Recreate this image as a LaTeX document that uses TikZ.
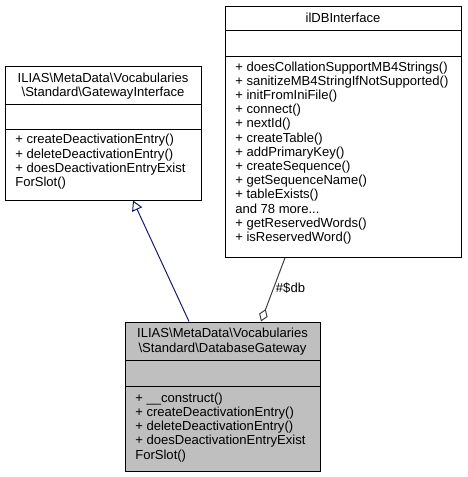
\documentclass[tikz,border=0pt]{standalone}
\usepackage{fontspec}
\setmainfont{Liberation Sans}
\usetikzlibrary{arrows.meta}
\definecolor{edgeblue}{HTML}{191970}
\definecolor{edgegray}{HTML}{404040}
\definecolor{classgray}{HTML}{BFBFBF}
\newcommand{\bs}{\textbackslash}
\newcommand{\topstrut}{\rule{0pt}{7.5pt}}
\begin{document}
\begin{tikzpicture}[x=0.75pt,y=-0.75pt,
  classbox/.style={draw=black,line width=0.75pt,inner sep=0pt,anchor=north west},
  sepline/.style={draw=black,line width=0.75pt},
  umltext/.style={inner sep=0pt,font=\fontsize{9.8pt}{10.65pt}\selectfont},
  titletext/.style={umltext,align=center,anchor=north},
  opstext/.style={umltext,align=left,anchor=north west},
  inherit/.style={draw=edgeblue,line width=0.75pt,-{Triangle[open,length=7.5pt,width=8.25pt]}},
  aggreg/.style={draw=edgegray,line width=0.75pt,-{Diamond[open,length=10pt,width=6.8pt]}},
  edgelabel/.style={umltext}]
\useasboundingbox (0,0) rectangle (467,477);
% class boxes
\node[classbox,minimum width=147pt,minimum height=100.125pt] (GI) at (5,66) {};
\node[classbox,minimum width=177pt,minimum height=188.1pt] (DB) at (225,6) {};
\node[classbox,fill=classgray,minimum width=146.25pt,minimum height=112.125pt] (DG) at (125,321.5) {};
% compartment separators
\draw[sepline] (GI.west |- 0,104.5) -- (GI.east |- 0,104.5);
\draw[sepline] (GI.west |- 0,129.5) -- (GI.east |- 0,129.5);
\draw[sepline] (DB.west |- 0,31) -- (DB.east |- 0,31);
\draw[sepline] (DB.west |- 0,56.7) -- (DB.east |- 0,56.7);
\draw[sepline] (DG.west |- 0,360.5) -- (DG.east |- 0,360.5);
\draw[sepline] (DG.west |- 0,386.5) -- (DG.east |- 0,386.5);
% texts
\node[titletext] (GItitle) at (103,72.3) {\topstrut ILIAS\bs MetaData\bs Vocabularies\\\bs Standard\bs GatewayInterface};
\node[opstext] (GIops) at (15,133.7) {\topstrut + createDeactivationEntry()\\+ deleteDeactivationEntry()\\+ doesDeactivationEntryExist\\ForSlot()};
\node[titletext] (DBtitle) at (343,12) {\topstrut ilDBInterface};
\node[opstext] (DBops) at (235,60.8) {\topstrut + doesCollationSupportMB4Strings()\\+ sanitizeMB4StringIfNotSupported()\\+ initFromIniFile()\\+ connect()\\+ nextId()\\+ createTable()\\+ addPrimaryKey()\\+ createSequence()\\+ getSequenceName()\\+ tableExists()\\and 78 more...\\+ getReservedWords()\\+ isReservedWord()};
\node[titletext] (DGtitle) at (222.5,327.7) {\topstrut ILIAS\bs MetaData\bs Vocabularies\\\bs Standard\bs DatabaseGateway};
\node[opstext] (DGops) at (135,392) {\topstrut + \_\_construct()\\+ createDeactivationEntry()\\+ deleteDeactivationEntry()\\+ doesDeactivationEntryExist\\ForSlot()};
% connectors
\draw[inherit] ([xshift=48pt]DG.north west) -- ([xshift=96pt]GI.south west);
\draw[aggreg] ([xshift=45pt]DB.south west) -- ([xshift=102pt]DG.north west);
\node[edgelabel] (dblabel) at (290.5,288) {\#\$db};
\end{tikzpicture}
\end{document}
